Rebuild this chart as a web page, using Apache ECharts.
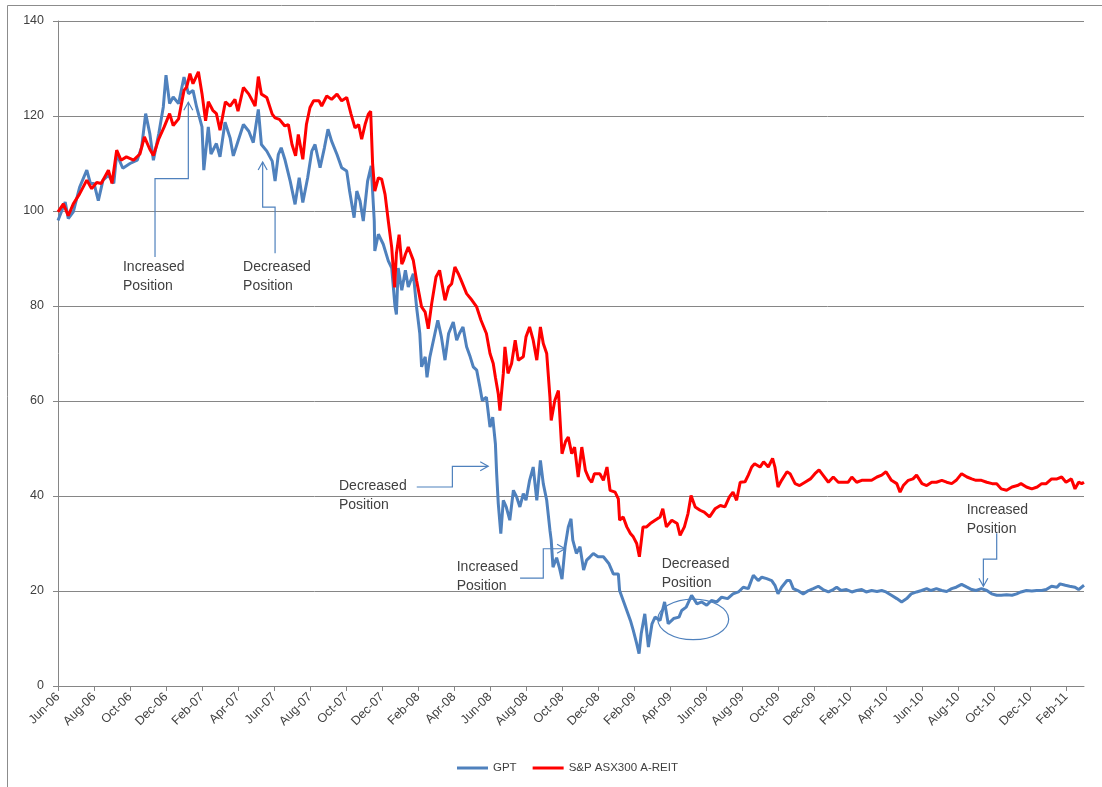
<!DOCTYPE html>
<html>
<head>
<meta charset="utf-8">
<script src="https://cdn.jsdelivr.net/npm/echarts@6/dist/echarts.min.js"></script>
<style>
html,body{margin:0;padding:0;background:#fff;}
#chart{width:1102px;height:787px;}
</style>
</head>
<body>
<div id="chart"></div>
<script>
// x values are months elapsed since the start of Jun-06
const tickLabels = ['Jun-06','Aug-06','Oct-06','Dec-06','Feb-07','Apr-07','Jun-07','Aug-07','Oct-07','Dec-07','Feb-08','Apr-08','Jun-08','Aug-08','Oct-08','Dec-08','Feb-09','Apr-09','Jun-09','Aug-09','Oct-09','Dec-09','Feb-10','Apr-10','Jun-10','Aug-10','Oct-10','Dec-10','Feb-11'];
const tickMonths = [0,2,4,6,8,10,12,14,16,18,20,22,24,26,28,30,32,34,36,38,40,42,44,46,48,50,52,54,56];
const seriesNames = ['GPT','S&P ASX300 A-REIT'];

const gptPoints = [
[0,98],[0.4,101.9],[0.57,98.4],[0.85,99.8],[1.2,105],[1.6,108.6],[1.8,105.8],[2.0,105.8],[2.24,102.2],[2.5,106.5],[2.8,107.5],[3.1,105.8],[3.26,112],[3.6,109],[4.0,110],[4.4,110.7],[4.65,113.5],[4.87,120.5],[5.1,116.3],[5.3,110.7],[5.6,116.3],[5.85,121.9],[6.0,128.6],[6.2,122.6],[6.4,124],[6.7,122.6],[7.0,128.2],[7.25,124.7],[7.5,125.4],[7.7,121.9],[8.0,117.7],[8.1,108.6],[8.35,117.7],[8.5,112],[8.8,114.2],[9.0,111.4],[9.28,118.7],[9.56,115.4],[9.74,111.6],[10.0,114.7],[10.3,118.2],[10.6,116.8],[10.85,114.4],[11.13,121.4],[11.3,114],[11.6,112.6],[11.9,110.5],[12.06,106.3],[12.24,111.9],[12.4,113.3],[12.6,110.9],[12.9,106.3],[13.17,101.4],[13.4,107],[13.6,101.8],[13.87,107],[14.1,112.6],[14.28,114],[14.56,109.1],[14.8,113.3],[15.0,117.2],[15.2,114.7],[15.5,111.9],[15.76,109.1],[16.04,108.4],[16.2,104.2],[16.45,98.6],[16.6,104.2],[16.78,102.1],[16.96,97.9],[17.2,106.3],[17.4,109.5],[17.57,97.9],[17.6,91.6],[17.8,95.1],[18.07,93],[18.35,89.5],[18.54,88],[18.72,80],[18.8,78.2],[18.9,88],[19.1,83.3],[19.3,87.5],[19.46,84],[19.74,86.8],[19.92,79.8],[20.1,74.2],[20.2,67.2],[20.4,69.3],[20.5,65],[20.66,69.3],[20.94,74.2],[21.1,77],[21.3,73.5],[21.5,68.6],[21.7,74.2],[21.96,76.6],[22.15,72.8],[22.3,74.2],[22.5,75.6],[22.7,71.4],[22.9,69.3],[23.07,67.2],[23.26,66.5],[23.44,62.9],[23.57,60.1],[23.8,60.8],[24.0,54.5],[24.15,56.6],[24.3,51],[24.37,44.7],[24.46,38.4],[24.6,32.1],[24.74,39.1],[24.9,37.7],[25.1,34.9],[25.3,41.2],[25.48,39.8],[25.66,37.7],[25.85,40.5],[26.0,39.1],[26.2,43.3],[26.4,46.1],[26.6,39.1],[26.8,47.5],[26.96,42.6],[27.15,39.1],[27.33,32.8],[27.4,30.7],[27.5,25],[27.7,27],[27.85,25],[28.0,22.5],[28.17,29.3],[28.35,33.5],[28.5,35.2],[28.6,30.7],[28.8,27.9],[29.0,29.3],[29.2,24.4],[29.37,26.5],[29.56,27.2],[29.74,27.9],[30.0,27.2],[30.3,27.2],[30.6,25.8],[30.85,23.6],[31.13,23.6],[31.2,20.1],[31.4,18],[31.6,15.9],[31.8,13.8],[31.96,11.7],[32.15,8.9],[32.28,6.8],[32.4,11],[32.6,15.2],[32.8,8.2],[33.0,13.1],[33.17,14.5],[33.45,13.8],[33.7,17.7],[33.9,13.1],[34.2,14.2],[34.5,14.5],[34.65,15.9],[34.9,16.6],[35.2,19.1],[35.5,17.3],[35.76,17.7],[36.04,17],[36.3,18],[36.6,17.7],[36.87,18.7],[37.2,18.4],[37.5,19.4],[37.8,19.8],[38.07,20.8],[38.35,20.5],[38.63,23.3],[38.9,22.2],[39.1,22.9],[39.37,22.6],[39.65,22.2],[39.83,21.2],[40.0,19.4],[40.2,20.8],[40.5,22.2],[40.67,22.2],[40.85,20.5],[41.1,20.1],[41.4,19.4],[41.7,20.1],[41.96,20.5],[42.24,21],[42.5,20.3],[42.8,19.8],[43.07,20.3],[43.26,20.8],[43.5,20.1],[43.8,20.3],[44.1,19.8],[44.37,20.1],[44.65,20.3],[44.9,19.8],[45.2,20.1],[45.5,19.9],[45.76,20.1],[46.0,19.8],[46.3,19.1],[46.6,18.4],[46.87,17.7],[47.15,18.4],[47.4,19.4],[47.7,19.8],[47.98,20.1],[48.26,20.5],[48.5,20.1],[48.8,20.5],[49.1,20.1],[49.37,19.9],[49.65,20.5],[49.9,20.8],[50.2,21.4],[50.5,20.8],[50.76,20.3],[51.0,20.1],[51.3,20.5],[51.6,20.1],[51.87,19.4],[52.15,19.1],[52.4,19.1],[52.7,19.2],[53.0,19.1],[53.26,19.4],[53.5,19.8],[53.8,20.1],[54.1,20],[54.37,20.1],[54.65,20.1],[54.9,20.3],[55.2,21],[55.5,20.8],[55.67,21.5],[55.96,21.2],[56.2,21],[56.5,20.8],[56.7,20.3],[57.0,21.2]
];

const reitPoints = [
[0,99.8],[0.3,101.5],[0.57,99],[0.85,101.5],[1.2,103.6],[1.6,106.5],[1.87,104.7],[2.15,106],[2.4,105.8],[2.8,108.6],[3.0,105.8],[3.26,112.8],[3.5,110.7],[3.8,111.4],[4.2,110.7],[4.55,112],[4.8,115.6],[5.1,113],[5.3,111.7],[5.6,115.2],[5.9,117.7],[6.2,120.5],[6.4,118],[6.7,119.4],[7.0,125.4],[7.15,126.1],[7.33,128.9],[7.5,126.8],[7.8,129.3],[8.0,124.7],[8.2,119],[8.35,123],[8.6,121.2],[8.8,120.5],[9.0,117],[9.3,123],[9.56,122.1],[9.83,123.5],[10.0,121],[10.3,126],[10.6,124.6],[10.8,123.2],[10.95,122.1],[11.13,128.3],[11.3,124.6],[11.6,123.9],[11.9,120.4],[12.06,119.6],[12.3,119.3],[12.6,117.9],[12.8,118.2],[13.0,114],[13.2,111.6],[13.35,116.1],[13.6,110.9],[13.8,118.2],[14.0,121.8],[14.2,123.2],[14.5,123.2],[14.65,122.1],[14.93,124.2],[15.2,123.5],[15.5,124.6],[15.76,123.2],[16.04,123.9],[16.28,120.4],[16.5,117.5],[16.7,118.2],[16.87,115.1],[17.06,118.2],[17.24,120.4],[17.37,121],[17.48,109.8],[17.6,104.2],[17.8,107],[17.98,106.7],[18.17,103.5],[18.35,97.9],[18.54,92.3],[18.7,83.9],[18.8,91],[18.95,95],[19.1,88.8],[19.2,89.6],[19.3,90.9],[19.46,92.4],[19.74,89.6],[19.92,85.4],[20.2,79.8],[20.4,78.7],[20.57,75.2],[20.76,80.5],[21.0,86.1],[21.2,87.5],[21.5,81.2],[21.7,84],[21.87,84.7],[22.05,88.2],[22.24,86.8],[22.4,85.4],[22.7,82.6],[23.0,81.2],[23.26,79.8],[23.5,77],[23.8,74.2],[24.0,70],[24.18,67.9],[24.3,65],[24.46,61.5],[24.55,58],[24.74,65.8],[24.83,71.4],[25.0,65.8],[25.2,67.9],[25.4,72.8],[25.57,68.6],[25.85,69.3],[26.0,73.5],[26.2,75.6],[26.4,72.8],[26.6,68.6],[26.8,75.6],[26.96,72.1],[27.15,70],[27.33,60.8],[27.4,55.9],[27.6,60.1],[27.8,62.2],[28.0,48.9],[28.2,51.5],[28.35,52.4],[28.54,48.9],[28.7,50.3],[28.9,44],[29.1,50.3],[29.3,45.4],[29.5,43.6],[29.65,42.9],[29.8,44.7],[30.1,44.7],[30.3,43.3],[30.5,46.1],[30.67,41.2],[30.95,40.8],[31.13,39.4],[31.2,34.9],[31.4,35.6],[31.6,33.5],[31.8,32.1],[31.96,31.4],[32.15,30],[32.3,27.2],[32.5,33.5],[32.7,33.5],[32.9,34.2],[33.17,34.9],[33.45,35.6],[33.6,37.3],[33.8,33.5],[34.1,34.9],[34.4,34.2],[34.56,31.7],[34.8,33.5],[35.0,36.3],[35.17,40.1],[35.4,37.7],[35.67,37],[35.9,36.6],[36.2,35.6],[36.5,37.3],[36.8,38],[37.05,37.7],[37.3,39.8],[37.5,40.8],[37.7,39.1],[37.9,42.9],[38.17,43],[38.35,44.4],[38.54,46.1],[38.7,46.8],[39.0,46.1],[39.2,47.2],[39.46,46.1],[39.7,47.9],[39.83,46.1],[40.0,41.9],[40.2,43.3],[40.5,45.1],[40.67,44.7],[40.95,42.6],[41.2,42.2],[41.5,42.9],[41.8,43.6],[42.05,44.7],[42.28,45.5],[42.5,44.4],[42.8,42.9],[43.07,44],[43.35,42.9],[43.6,42.9],[43.9,42.9],[44.1,44],[44.37,42.9],[44.65,43.3],[44.9,43.3],[45.2,43.3],[45.5,44],[45.76,44.4],[46.0,45.1],[46.3,43.3],[46.6,42.6],[46.78,40.8],[46.96,42.2],[47.24,43.3],[47.5,43.6],[47.7,44.4],[48.0,42.6],[48.26,42.2],[48.54,42.9],[48.8,42.9],[49.1,43.3],[49.37,42.9],[49.65,42.6],[49.9,43.3],[50.2,44.7],[50.5,44],[50.76,43.6],[51.0,43.3],[51.3,43.3],[51.6,42.9],[51.9,42.6],[52.15,42.6],[52.4,41.5],[52.7,41.2],[53.0,41.9],[53.3,42.2],[53.5,42.6],[53.8,41.9],[54.1,41.5],[54.4,41.9],[54.65,42.6],[54.9,42.6],[55.2,43.6],[55.5,43.6],[55.76,44],[56.0,42.9],[56.3,43.6],[56.5,41.5],[56.7,42.9],[56.87,42.6],[57.0,42.9]
];

// annotation callouts, placed in data coordinates (month, value)
const annotations = [
  {text:'Increased\nPosition', at:[3.61,90.2], path:[[5.39,90.3],[5.39,106.8],[7.24,106.8],[7.24,122.9]]},
  {text:'Decreased\nPosition', at:[10.28,90.2], path:[[12.06,91.1],[12.06,100.8],[11.37,100.8],[11.37,110.3]]},
  {text:'Decreased\nPosition', at:[15.61,44.1], path:[[19.93,41.9],[21.91,41.9],[21.91,46.25],[23.9,46.25]]},
  {text:'Increased\nPosition', at:[22.15,27.0], path:[[25.67,22.7],[26.96,22.7],[26.96,28.9],[28.17,28.9]]},
  {text:'Decreased\nPosition', at:[33.54,27.6], ellipse:[35.29,14.04,1.97,4.27]},
  {text:'Increased\nPosition', at:[50.48,39.0], path:[[52.15,32.15],[52.15,26.7],[51.41,26.7],[51.41,21.0]]}
];

const FONT = '"Liberation Sans", Arial, sans-serif';
const AXIS_GRAY = '#868686';
const TEXT = '#404040';
const CALLOUT = '#4F81BD';

const chart = echarts.init(document.getElementById('chart'), null, {renderer:'canvas'});

function renderCallout(params, api) {
  const a = annotations[params.dataIndex];
  const children = [];
  if (a.path) {
    const pts = a.path.map(p => api.coord(p));
    children.push({type:'polyline', shape:{points:pts}, style:{stroke:CALLOUT, lineWidth:1.2, fill:'none'}});
    const p2 = pts[pts.length-1], p1 = pts[pts.length-2];
    const dx = p2[0]-p1[0], dy = p2[1]-p1[1];
    const len = Math.sqrt(dx*dx+dy*dy) || 1;
    const ux = dx/len, uy = dy/len;
    const L = 8, W = 4.5;
    const bx = p2[0]-ux*L, by = p2[1]-uy*L;
    children.push({type:'polyline', shape:{points:[[bx - uy*W, by + ux*W], p2, [bx + uy*W, by - ux*W]]}, style:{stroke:CALLOUT, lineWidth:1.2, fill:'none'}});
  }
  if (a.ellipse) {
    const c = api.coord([a.ellipse[0], a.ellipse[1]]);
    const s = api.size([a.ellipse[2], a.ellipse[3]]);
    children.push({type:'ellipse', shape:{cx:c[0], cy:c[1], rx:s[0], ry:s[1]}, style:{stroke:CALLOUT, lineWidth:1.2, fill:'none'}});
  }
  const t = api.coord(a.at);
  children.push({type:'text', x:t[0], y:t[1], style:{text:a.text, fontSize:14, fontFamily:FONT, fill:TEXT, lineHeight:19, align:'left', verticalAlign:'top'}});
  return {type:'group', children};
}

const option = {
  animation:false,
  backgroundColor:'#ffffff',
  textStyle:{fontFamily:FONT},
  graphic:[{type:'rect', x:0, y:0, silent:true, shape:{x:7.5, y:5.5, width:1200, height:900}, style:{fill:'none', stroke:'#8c8c8c', lineWidth:1}}],
  grid:{left:58, right:18, top:21, bottom:101, containLabel:false},
  legend:{
    data:seriesNames, left:452, top:757, icon:'rect', itemWidth:31, itemHeight:3, itemGap:16,
    textStyle:{fontSize:11.5, color:TEXT, fontFamily:FONT}
  },
  xAxis:{
    type:'value', min:0, max:57,
    axisLine:{show:true, lineStyle:{color:AXIS_GRAY, width:1}},
    axisTick:{show:true, length:5, customValues:tickMonths, lineStyle:{color:AXIS_GRAY}},
    axisLabel:{customValues:tickMonths, rotate:45, margin:9, fontSize:12.5, color:TEXT, fontFamily:FONT,
      formatter: v => tickLabels[Math.round(v/2)] || ''},
    splitLine:{show:false}
  },
  yAxis:{
    type:'value', min:0, max:140, interval:20,
    axisLine:{show:true, lineStyle:{color:AXIS_GRAY, width:1}},
    axisTick:{show:true, length:5, lineStyle:{color:AXIS_GRAY}},
    axisLabel:{margin:14, fontSize:12.5, color:TEXT, fontFamily:FONT},
    splitLine:{show:true, lineStyle:{color:AXIS_GRAY, width:1}}
  },
  series:[
    {name:seriesNames[0], type:'line', data:gptPoints, showSymbol:false, symbol:'none', smooth:false,
      lineStyle:{color:'#4F81BD', width:3}, itemStyle:{color:'#4F81BD'}, z:2},
    {name:seriesNames[1], type:'line', data:reitPoints, showSymbol:false, symbol:'none', smooth:false,
      lineStyle:{color:'#FF0000', width:3}, itemStyle:{color:'#FF0000'}, z:3},
    {type:'custom', name:'callouts', data:annotations.map((a,i)=>[a.at[0], a.at[1]]), renderItem:renderCallout,
      clip:false, silent:true, z:5, encode:{x:0, y:1}}
  ]
};
chart.setOption(option);
</script>
</body>
</html>
